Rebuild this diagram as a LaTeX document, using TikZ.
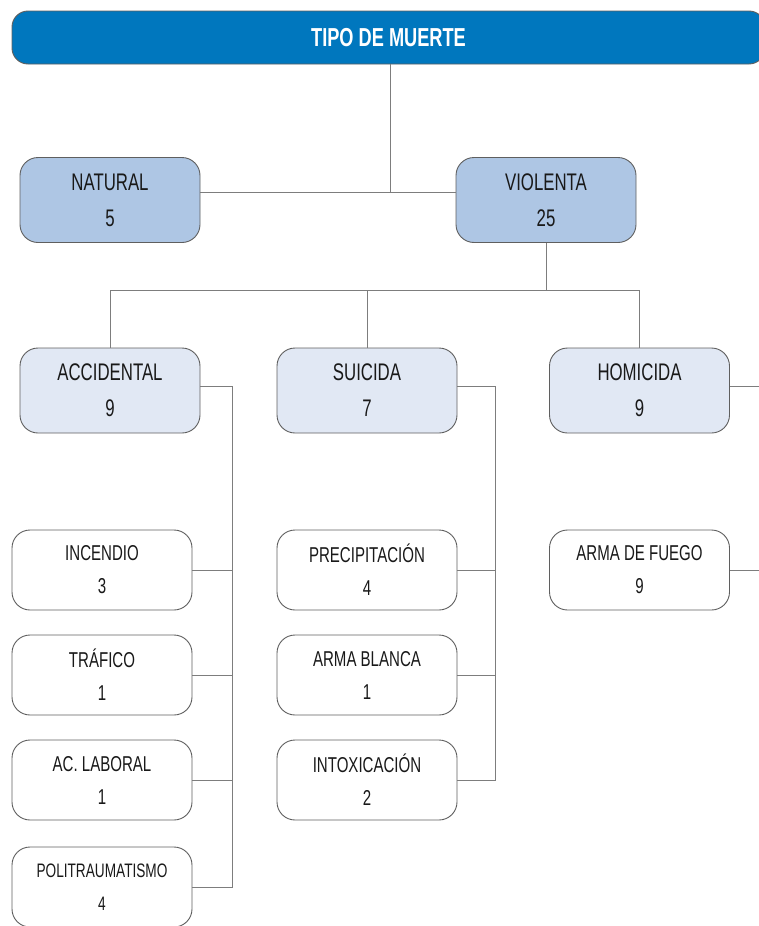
\documentclass[tikz,border=0pt]{standalone}
\usepackage{fontspec}
\setmainfont{Liberation Sans}[FakeStretch=0.70]
\usetikzlibrary{positioning}
\definecolor{MuerteBlue}{RGB}{0,119,190}
\definecolor{TipoBlue}{RGB}{174,198,228}
\definecolor{ClaseBlue}{RGB}{225,232,244}
\definecolor{BoxLine}{RGB}{95,95,95}
\definecolor{LinkGray}{RGB}{125,125,125}

\begin{document}
\begin{tikzpicture}[x=1pt,y=-1pt,
  box/.style={draw=BoxLine,line width=0.9pt,rounded corners=18pt,minimum width=180pt,
    minimum height=85pt,align=center,inner sep=0pt,text=black!90},
  titulo/.style={box,fill=MuerteBlue,minimum width=753pt,minimum height=53pt,rounded corners=16pt,
    text=white,font=\fontsize{26}{30}\selectfont\bfseries},
  tipo/.style={box,fill=TipoBlue,font=\fontsize{24}{36}\selectfont},
  clase/.style={box,fill=ClaseBlue,font=\fontsize{24}{36}\selectfont},
  hoja/.style={box,fill=white,minimum height=80pt,font=\fontsize{21.5}{33}\selectfont},
  link/.style={draw=LinkGray,line width=1pt}]
\useasboundingbox (0,0) rectangle (759,926);
\clip (0,0) rectangle (759,926);

% tipo de muerte
\node[titulo] (muerte) at (388.5,37.5) {TIPO DE MUERTE};
\node[tipo] (natural) at (110,200) {NATURAL\\5};
\node[tipo] (violenta) at (546,200) {VIOLENTA\\25};

% clases de muerte violenta
\node[clase] (accidental) at (110,390.5) {ACCIDENTAL\\9};
\node[clase] (suicida) at (367,390.5) {SUICIDA\\7};
\node[clase] (homicida) at (639.5,390.5) {HOMICIDA\\9};

% causas
\node[hoja] (incendio) at (102,570) {INCENDIO\\3};
\node[hoja] (trafico) at (102,675) {TRÁFICO\\1};
\node[hoja] (laboral) at (102,780) {AC. LABORAL\\1};
\node[hoja,font=\fontsize{19.5}{33}\selectfont] (politrauma) at (102,887) {POLITRAUMATISMO\\4};
\node[hoja] (precipitacion) at (367,570) {PRECIPITACIÓN\\4};
\node[hoja] (blanca) at (367,675) {ARMA BLANCA\\1};
\node[hoja] (intoxicacion) at (367,780) {INTOXICACIÓN\\2};
\node[hoja] (fuego) at (639.5,570) {ARMA DE FUEGO\\9};

% conectores
\path ([yshift=8pt]natural.east) coordinate (natE);
\coordinate (tronco) at (390,0);
\draw[link] (tronco |- muerte.south) -- (tronco |- natE);
\draw[link] (natE) -- ([yshift=8pt]violenta.west);
\draw[link] (violenta.south) -- ++(0,48) coordinate (ramal);
\draw[link] (accidental.north) |- (ramal) -| (homicida.north);
\draw[link] (suicida.north) -- (suicida.north |- ramal);

\coordinate (ejeA) at (232,0);
\coordinate (ejeS) at (495,0);
\coordinate (ejeH) at (768,0);
\draw[link] ([yshift=4pt]accidental.east) -| (ejeA |- politrauma.east) -- (politrauma.east);
\foreach \n in {incendio,trafico,laboral}
  \draw[link] (\n.east) -- (\n.east -| ejeA);
\draw[link] ([yshift=4pt]suicida.east) -| (ejeS |- intoxicacion.east) -- (intoxicacion.east);
\foreach \n in {precipitacion,blanca}
  \draw[link] (\n.east) -- (\n.east -| ejeS);
\draw[link] ([yshift=4pt]homicida.east) -| (ejeH |- fuego.east) -- (fuego.east);
\end{tikzpicture}
\end{document}
